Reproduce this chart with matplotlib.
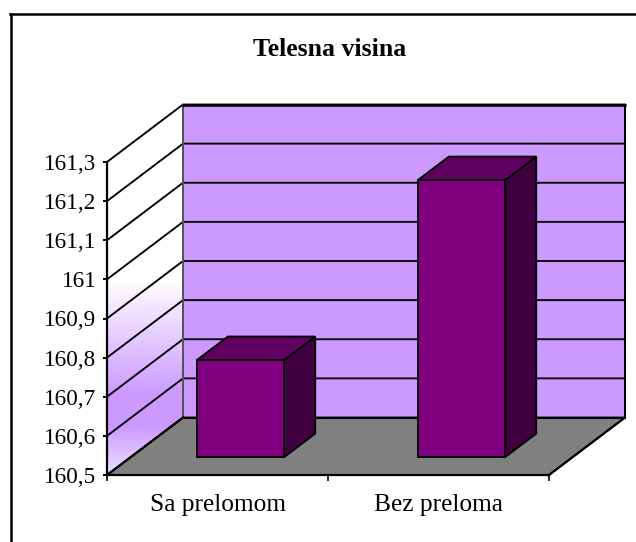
import matplotlib
matplotlib.use("Agg")
import matplotlib.pyplot as plt
import numpy as np
from matplotlib.lines import Line2D
from matplotlib.patches import Polygon, Rectangle

plt.rcParams['font.family'] = ['Liberation Serif', 'DejaVu Serif']

title = "Telesna visina"
categories = ["Sa prelomom", "Bez preloma"]
values = [160.748, 161.208]
ytick_values = [160.5, 160.6, 160.7, 160.8, 160.9, 161.0, 161.1, 161.2, 161.3]
ytick_labels = ["160,5", "160,6", "160,7", "160,8", "160,9", "161", "161,1", "161,2", "161,3"]

W, H = 636, 542
fig = plt.figure(figsize=(W / 100, H / 100), dpi=100)

# od ramke se vide samo gornja i lijeva linija
fig.add_artist(Line2D([11 / W, 11 / W], [0, 1 - 13.5 / H], transform=fig.transFigure, color="black", linewidth=1.8))
fig.add_artist(Line2D([10 / W, 1], [1 - 13.5 / H, 1 - 13.5 / H], transform=fig.transFigure, color="black", linewidth=1.8))

# prednja ravnina osi: x 107..549 px, y 475..162 px
left, right, bottom, top = 107, 549, 475, 162
ax = fig.add_axes([left / W, 1 - bottom / H, (right - left) / W, (bottom - top) / H])
ax.patch.set_alpha(0)
ax.set_xlim(0, 2)
ax.set_ylim(160.5, 161.3)

# dubina 3D prikaza u jedinicama podataka
dx = 76 / (right - left) * 2
dy = 57.5 / (bottom - top) * 0.8
ymin, ymax = 160.5, 161.3

# pod i zadnji zid
ax.add_patch(Polygon([(0, ymin), (2, ymin), (2 + dx, ymin + dy), (dx, ymin + dy)], closed=True,
                     facecolor="#808080", edgecolor="black", linewidth=1.4, clip_on=False, zorder=1))
ax.add_patch(Polygon([(dx, ymin + dy), (2 + dx, ymin + dy), (2 + dx, ymax + dy), (dx, ymax + dy)], closed=True,
                     facecolor="#CC99FF", edgecolor="black", linewidth=1.4, clip_on=False, zorder=1))

# lijevi zid sa prelivom
wall = Polygon([(0, ymin), (dx, ymin + dy), (dx, ymax + dy), (0, ymax)], closed=True,
               facecolor="none", edgecolor="none", clip_on=False, transform=ax.transData)
ax.add_patch(wall)
stops = np.array([0.0, 0.47, 0.785, 0.87, 1.0])
cols = np.array([[255, 255, 255], [255, 255, 255], [204, 153, 255], [204, 153, 255], [238, 224, 255]]) / 255
t = np.linspace(0, 1, 256)
grad = np.stack([np.interp(t, stops, cols[:, i]) for i in range(3)], axis=1)[:, None, :]
im = ax.imshow(grad, extent=(0, dx, ymin, ymax + dy), origin="upper", aspect="auto", zorder=1.5, clip_on=True)
im.set_clip_path(wall)
ax.set_xlim(0, 2)
ax.set_ylim(ymin, ymax)

# linije mreze
for v in ytick_values:
    ax.plot([0, dx, 2 + dx], [v, v + dy, v + dy], color="black", linewidth=1.35, clip_on=False, zorder=2)
ax.plot([dx, dx], [ymin + dy, ymax + dy], color="#555555", linewidth=1.4, clip_on=False, zorder=2)
ax.plot([2 + dx, 2 + dx], [ymin + dy, ymax + dy], color="black", linewidth=1.4, clip_on=False, zorder=2)
ax.plot([dx, 2 + dx], [ymax + dy, ymax + dy], color="black", linewidth=1.8, clip_on=False, zorder=2)
ax.plot([0, dx], [ymin, ymin + dy], color="black", linewidth=1.5, clip_on=False, zorder=2)
ax.plot([2, 2 + dx], [ymin, ymin + dy], color="black", linewidth=1.5, clip_on=False, zorder=2)

# stubici
bar_w = 0.395
d0, d1 = 0.31, 0.72
for i, v in enumerate(values):
    x0 = i + 0.5 - bar_w / 2 + d0 * dx - 0.003
    x1 = x0 + bar_w
    y0 = ymin + d0 * dy
    y1 = v + d0 * dy
    ox = (d1 - d0) * dx
    oy = (d1 - d0) * dy
    ax.add_patch(Polygon([(x1, y0), (x1 + ox, y0 + oy), (x1 + ox, y1 + oy), (x1, y1)], closed=True,
                         facecolor="#400040", edgecolor="black", linewidth=1.35, clip_on=False, zorder=3))
    ax.add_patch(Polygon([(x0, y1), (x1, y1), (x1 + ox, y1 + oy), (x0 + ox, y1 + oy)], closed=True,
                         facecolor="#600060", edgecolor="black", linewidth=1.35, clip_on=False, zorder=3))
    ax.add_patch(Rectangle((x0, y0), bar_w, y1 - y0, facecolor="#800080", edgecolor="black",
                           linewidth=1.35, clip_on=False, zorder=4))

for s in ["top", "right"]:
    ax.spines[s].set_visible(False)
ax.spines["left"].set_linewidth(1.6)
ax.spines["bottom"].set_linewidth(1.6)
ax.spines["left"].set_zorder(5)
ax.spines["bottom"].set_zorder(5)

ax.set_yticks(ytick_values)
ax.set_yticklabels(ytick_labels, fontsize=16.7, color="black")
ax.tick_params(axis="y", length=3, width=1.4, pad=4.5)
ax.set_xticks([0, 1, 2])
ax.set_xticklabels([])
ax.tick_params(axis="x", which="major", length=4, width=1.2)
ax.set_xticks([0.5, 1.5], minor=True)
ax.set_xticklabels(categories, minor=True, fontsize=18.3)
ax.tick_params(axis="x", which="minor", length=0, pad=14)
for lab in ax.get_xticklabels(minor=True):
    lab.set_x(lab.get_position()[0])

fig.text(329.5 / W, 1 - 50 / H, title, fontsize=18.5, fontweight="bold", ha="center", va="center")

fig.savefig("out.png", dpi=100)
